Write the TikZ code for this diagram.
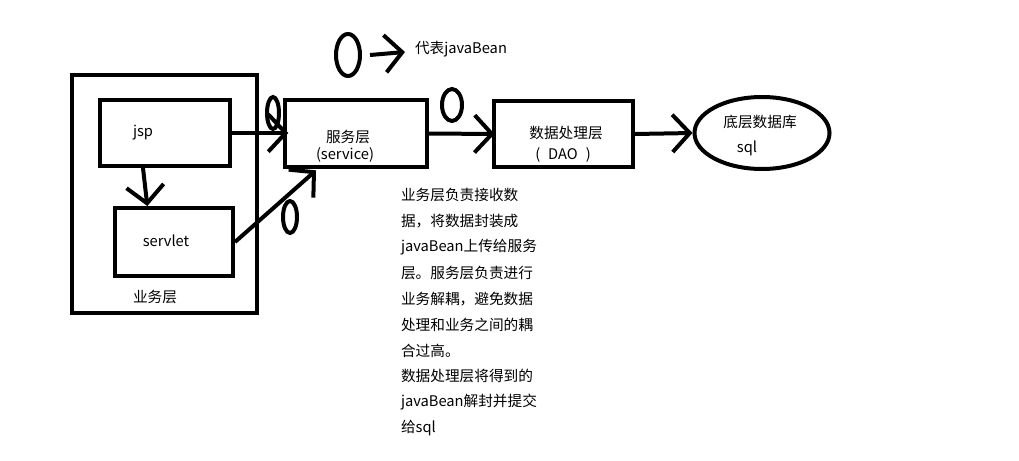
\documentclass[tikz,border=0pt]{standalone}
\usepackage{fontspec}
\setmainfont{Noto Sans CJK SC}
\usetikzlibrary{arrows.meta,shapes.geometric}
\begin{document}
\begin{tikzpicture}[x=0.75pt,y=-0.75pt, line width=3pt,
  box/.style={draw, rectangle, inner sep=0pt},
  lbl/.style={font=\fontsize{11}{13}\selectfont, inner sep=0pt},
  arr/.style={-{Straight Barb[length=13pt,width=28pt]}},
  bean/.style={draw, ellipse, inner sep=0pt}]
\useasboundingbox (0,0) rectangle (1019,460);
\fill[white] (0,0) rectangle (1019,460);
% boxes
\node[box, minimum width=138.75pt, minimum height=178.5pt] (biz) at (164.5,194) {};
\node[box, minimum width=97.5pt, minimum height=49.5pt] (jsp) at (165,133) {};
\node[box, minimum width=88.5pt, minimum height=51pt] (servlet) at (174,242) {};
\node[box, minimum width=106.5pt, minimum height=50.25pt] (svc) at (356,133.5) {};
\node[box, minimum width=104.25pt, minimum height=49.5pt] (dao) at (563.5,134) {};
\node[bean, minimum width=101.25pt, minimum height=54pt] (db) at (762,133) {};
% labels
\node[lbl] (tjsp) at (143,133) {jsp};
\node[lbl] (tservlet) at (166,241) {servlet};
\node[lbl] (tbiz) at (155,297) {业务层};
\node[lbl] (tsvc1) at (348,137) {服务层};
\node[lbl] (tsvc2) at (345,155) {(service)};
\node[lbl] (tdao1) at (566,133) {数据处理层};
\node[lbl] (tdao2) at (563,155) {(\hspace{6pt}DAO\hspace{6pt})};
\node[lbl] (tdb1) at (760,122) {底层数据库};
\node[lbl] (tdb2) at (747,148) {sql};
% arrows
\draw[arr] (jsp.east) -- ([xshift=4pt]svc.west |- jsp.east);
\draw[arr] ([xshift=-16.5pt]jsp.south) -- ([xshift=-20pt]servlet.north);
\draw[arr] (servlet.east) -- ([xshift=-30pt,yshift=-1pt]svc.south);
\draw[arr] (svc.east) -- ([xshift=2pt]dao.west);
\draw[arr] (dao.east) -- (db.west);
% javaBean markers
\node[bean, minimum width=9pt, minimum height=24pt] (b1) at (273,113) {};
\node[bean, minimum width=15pt, minimum height=24pt] (b2) at (452,105) {};
\node[bean, minimum width=10.5pt, minimum height=24pt] (b3) at (290,217) {};
% legend
\node[bean, minimum width=18pt, minimum height=31.5pt] (leg) at (348,55) {};
\node[lbl, anchor=west] (tleg) at (413,49) {代表javaBean};
\coordinate (legend-end) at (405,52);
\draw[arr] ([xshift=6pt]leg.east) -- (legend-end);
% description
\foreach \t [count=\i from 0] in {业务层负责接收数,据，将数据封装成,javaBean上传给服务,层。服务层负责进行,业务解耦，避免数据,处理和业务之间的耦,合过高。,数据处理层将得到的,javaBean解封并提交,给sql}{
  \node[lbl, anchor=west] (d\i) at (399,{195+25.9*\i}) {\t};
}
\end{tikzpicture}
\end{document}
